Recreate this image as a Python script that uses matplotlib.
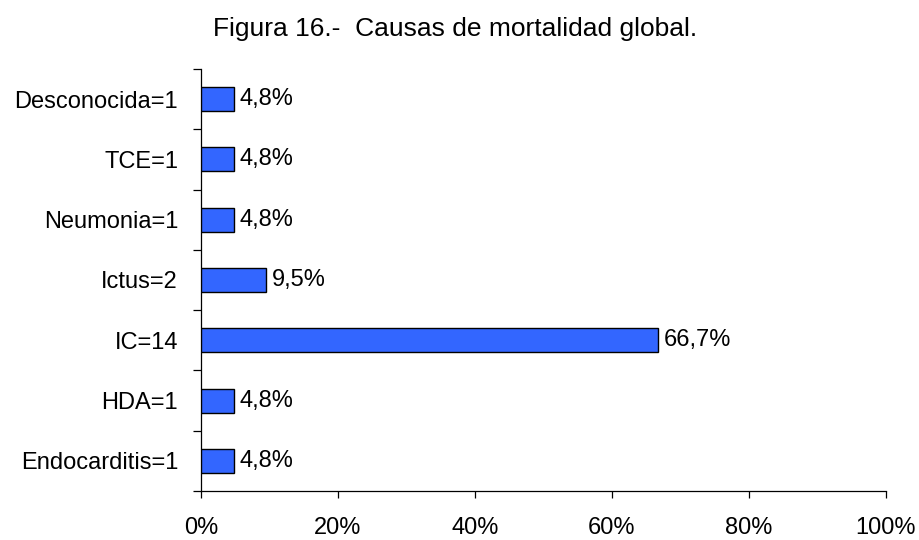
import matplotlib
matplotlib.use("Agg")
import matplotlib.pyplot as plt
import numpy as np

categories = ["Endocarditis=1", "HDA=1", "IC=14", "Ictus=2", "Neumonia=1", "TCE=1", "Desconocida=1"]
values = [4.8, 4.8, 66.7, 9.5, 4.8, 4.8, 4.8]
value_labels = ["4,8%", "4,8%", "66,7%", "9,5%", "4,8%", "4,8%", "4,8%"]
xticks = [0, 20, 40, 60, 80, 100]
xtick_labels = ["0%", "20%", "40%", "60%", "80%", "100%"]
title = "Figura 16.-  Causas de mortalidad global."

plt.rcParams['font.family'] = ['Liberation Sans', 'DejaVu Sans']
FS = 17

fig = plt.figure(figsize=(9.2, 5.4), dpi=100)
ax = fig.add_axes([201/920, 1-491/540, (886-201)/920, (491-69)/540])

y = np.arange(len(categories))
ax.barh(y, values, height=0.4, color="#3366FF", edgecolor="black", linewidth=1.0, zorder=3)
for yi, v, lab in zip(y, values, value_labels):
    ax.annotate(lab, (v, yi), xytext=(4, 0), textcoords="offset points",
                va="center", ha="left", fontsize=FS, color="black")

ax.set_xlim(0, 100)
ax.set_ylim(-0.5, len(categories) - 0.5)
ax.set_xticks(xticks)
ax.set_xticklabels(xtick_labels, fontsize=FS)
ax.set_yticks(y)
ax.set_yticklabels(categories, fontsize=FS)
ax.set_yticks(np.arange(-0.5, len(categories), 1.0), minor=True)

ax.tick_params(axis="y", which="major", length=0, pad=16.5)
ax.tick_params(axis="y", which="minor", length=6, width=0.9, direction="out")
ax.tick_params(axis="x", which="major", length=5, width=0.9, direction="out", pad=13.5)

for s in ["top", "right"]:
    ax.spines[s].set_visible(False)
for s in ["left", "bottom"]:
    ax.spines[s].set_linewidth(0.9)

fig.text(455/920, 1-29/540, title, ha="center", va="center", fontsize=19)

fig.savefig("out.png", dpi=100)
